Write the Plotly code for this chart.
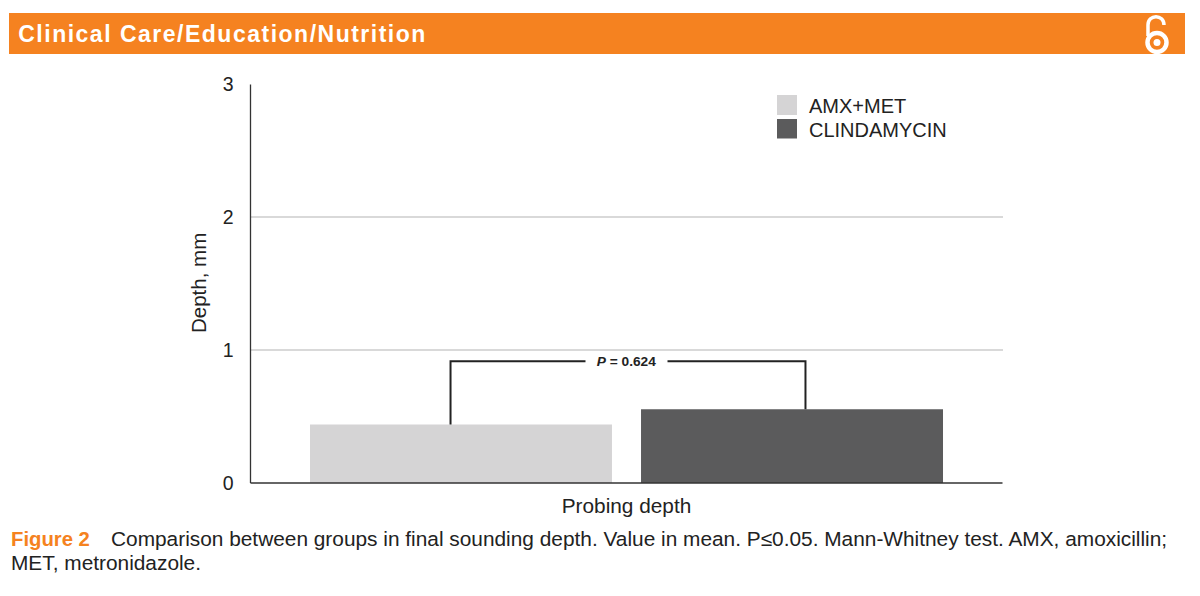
import plotly.graph_objects as go

GROUPS = ["AMX+MET", "CLINDAMYCIN"]
CATEGORY = ["Probing depth"]
VALUES_AMX = [0.44]
VALUES_CLI = [0.556]
BRACKET_X_LEFT = -0.234
BRACKET_X_RIGHT = 0.238
BRACKET_Y = 0.917
COLORS = ["#D5D4D5", "#5B5B5C"]
ORANGE = "#F58220"
FONT = "Liberation Sans"
W, H = 1200, 596
L, R, T, B = 250.5, 1002.5, 84.5, 483


def px(x):
    return x / W


def py(y):
    return 1 - y / H


fig = go.Figure()
fig.add_bar(x=[0], y=VALUES_AMX, name=GROUPS[0], marker_color=COLORS[0], marker_line_width=0, showlegend=False)
fig.add_bar(x=[0], y=VALUES_CLI, name=GROUPS[1], marker_color=COLORS[1], marker_line_width=0, showlegend=False)
fig.add_scatter(
    x=[BRACKET_X_LEFT, BRACKET_X_LEFT, BRACKET_X_RIGHT, BRACKET_X_RIGHT],
    y=[VALUES_AMX[0], BRACKET_Y, BRACKET_Y, VALUES_CLI[0]],
    mode="lines", line=dict(color="#222222", width=2), showlegend=False, hoverinfo="skip",
)

shapes = [
    dict(type="rect", xref="paper", yref="paper", x0=px(9), x1=px(1185), y0=py(54), y1=py(13),
         fillcolor=ORANGE, line_width=0, layer="below"),
    # open-access icon
    dict(type="circle", xref="paper", yref="paper", x0=px(1147.5), x1=px(1166.5), y0=py(52), y1=py(33),
         line=dict(color="white", width=4.5), fillcolor=ORANGE),
    dict(type="circle", xref="paper", yref="paper", x0=px(1153.5), x1=px(1160.5), y0=py(46), y1=py(39),
         line_width=0, fillcolor="white"),
    dict(type="path", xref="paper", yref="paper",
         path=f"M {px(1148)} {py(36)} L {px(1148)} {py(25)} C {px(1148)} {py(14)}, {px(1164)} {py(14)}, {px(1164)} {py(25)}",
         line=dict(color="white", width=3.5)),
    # legend swatches
    dict(type="rect", xref="paper", yref="paper", x0=px(777), x1=px(797), y0=py(115), y1=py(95),
         fillcolor=COLORS[0], line_width=0),
    dict(type="rect", xref="paper", yref="paper", x0=px(777), x1=px(797), y0=py(138.5), y1=py(119),
         fillcolor=COLORS[1], line_width=0),
]


def note(text, x, y, size, color="#222222", anchor="left", **kw):
    return dict(text=text, xref="paper", yref="paper", x=px(x), y=py(y), xanchor=anchor, yanchor="middle",
                showarrow=False, font=dict(family=FONT, size=size, color=color), borderpad=0, **kw)


annotations = [
    note("<b>Clinical Care/Education/Nutrition</b>", 222.5, 34, 23, "white", anchor="center"),
    note(GROUPS[0], 807.5, 106, 20),
    note(GROUPS[1], 807.5, 129.5, 20),
    dict(text="<b><i>P</i> = 0.624</b>", x=0, xshift=0, y=BRACKET_Y, xref="x", yref="y", showarrow=False,
         font=dict(family=FONT, size=13.7, color="#222222"), bgcolor="white", borderpad=0, width=81, align="center"),
    note(f'<b><span style="color:{ORANGE}">Figure 2</span></b>', 9.5, 538.5, 20.3),
    note("Comparison between groups in final sounding depth. Value in mean. P≤0.05. Mann-Whitney test. AMX, amoxicillin;",
         109.5, 538.5, 20.85),
    note("MET, metronidazole.", 9.5, 562.5, 20.85),
    note("Depth, mm", 198, 283, 20.5, anchor="center", textangle=-90),
]

fig.update_layout(
    width=W, height=H, autosize=False, paper_bgcolor="white", plot_bgcolor="white",
    margin=dict(l=0, r=0, t=0, b=0), barmode="group", bargap=0.1196, bargroupgap=0.0877,
    font=dict(family=FONT, color="#222222"), shapes=shapes, annotations=annotations,
    xaxis=dict(domain=[px(L), px(R)], range=[-0.5, 0.5], tickvals=[0], ticktext=CATEGORY, showgrid=False,
               zeroline=False, showline=False, ticks="", ticklabelstandoff=8, tickfont=dict(size=20.8),
               automargin=False),
    yaxis=dict(domain=[py(B), py(T)], range=[0, 3], tickvals=[0, 1, 2, 3], showgrid=True, gridcolor="#D9D9D9",
               gridwidth=1.5, zeroline=False, showline=False, ticks="", ticklabelstandoff=16,
               tickfont=dict(size=19.5), automargin=False),
)
fig.add_shape(type="line", xref="paper", yref="paper", x0=px(L), x1=px(L), y0=py(B), y1=py(T),
              line=dict(color="#333333", width=1.3))
fig.add_shape(type="line", xref="paper", yref="paper", x0=px(L), x1=px(R), y0=py(B), y1=py(B),
              line=dict(color="#333333", width=1.5))

POST = """
document.body.style.margin='0';
document.querySelectorAll('.annotation-text').forEach(function(t){
  if(t.textContent.indexOf('Clinical')===0){t.style.letterSpacing='1.5px';}
});
"""
fig.write_html("out.html", post_script=POST, config=dict(displayModeBar=False))
